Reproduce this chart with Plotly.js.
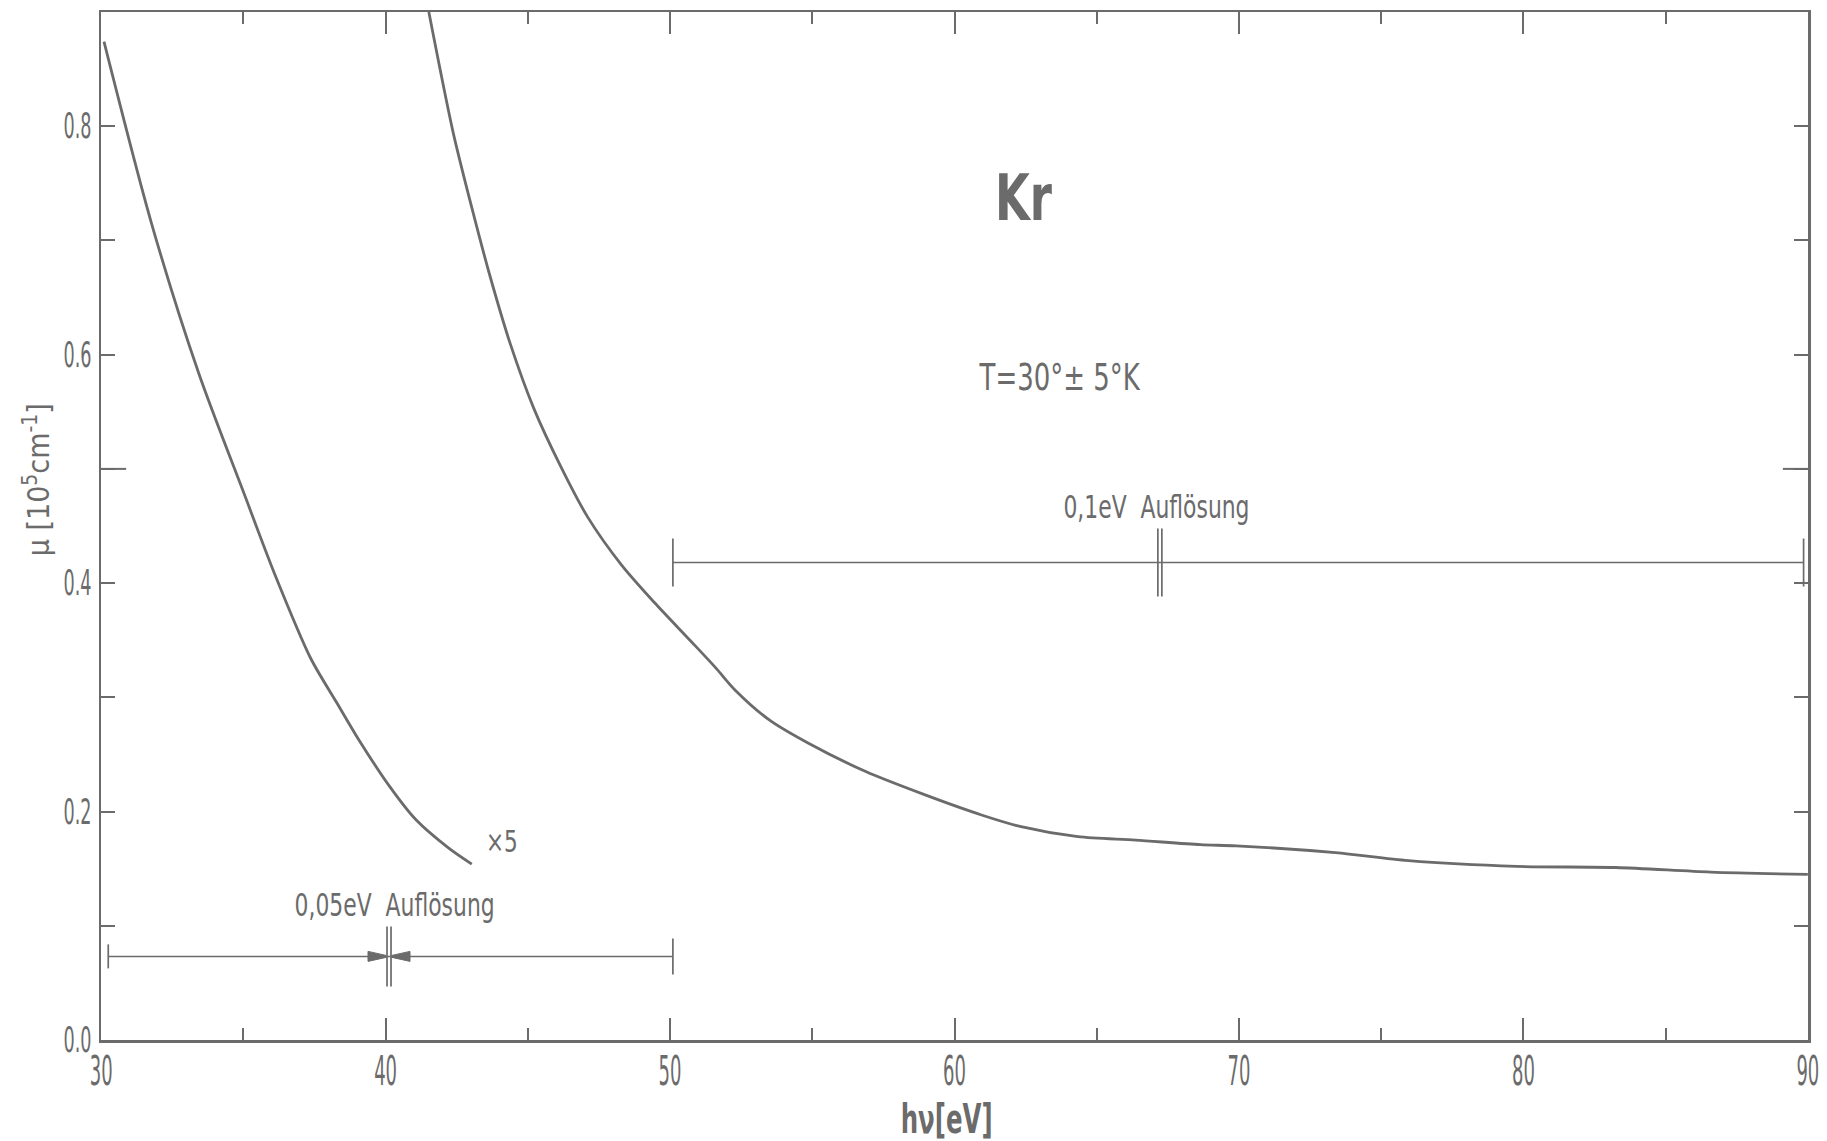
<!DOCTYPE html>
<html><head><meta charset="utf-8">
<script src="https://cdn.plot.ly/plotly-3.0.1.min.js"></script>
<style>html,body{margin:0;padding:0;background:#fff}#chart{width:1827px;height:1141px}</style>
</head><body><div id="chart"></div>
<script>
// ---- data ----
const lowCurveX = [30.1, 31.77, 33.44, 35.06, 36.10, 37.37, 38.29, 38.98, 40.14, 41.06, 42.22, 43.03];
const lowCurveY = [0.874, 0.715, 0.583, 0.476, 0.408, 0.334, 0.295, 0.266, 0.222, 0.193, 0.168, 0.154];
const mainCurveX = [41.52, 42.38, 43.09, 43.68, 44.39, 45.21, 46.16, 47.10, 48.29, 49.45, 50.70, 51.60, 52.30, 53.50, 54.85, 56.88, 58.92, 60.95, 62.30, 64.34, 66.37, 68.65, 69.90, 73.39, 75.96, 79.76, 83.25, 86.58, 90.0];
const mainCurveY = [0.900, 0.794, 0.723, 0.668, 0.609, 0.553, 0.502, 0.458, 0.416, 0.383, 0.350, 0.326, 0.306, 0.280, 0.260, 0.235, 0.215, 0.197, 0.187, 0.178, 0.175, 0.171, 0.170, 0.164, 0.157, 0.152, 0.151, 0.147, 0.145];
// resolution bars: [0.05 eV, 0.1 eV]
const barStart = [30.25, 50.1];
const barEnd = [50.1, 89.85];
const barY = [0.0732, 0.418];
const barMid = [40.12, 67.22];
const barLabels = ["0,05eV  Auflösung", "0,1eV  Auflösung"];
const xTickVals = [30, 40, 50, 60, 70, 80, 90];
const yTickVals = [0.0, 0.2, 0.4, 0.6, 0.8];
const yTickText = ["0.0", "0.2", "0.4", "0.6", "0.8"];
const labelKr = "Kr";
const labelT = "T=30°± 5°K";
const labelFactor = "×5";
const xTitle = "hν[eV]";
const yTitle = "μ [10<sup>5</sup>cm<sup>-1</sup>]";

// ---- styling ----
const INK = '#6b6b6b';
const FONT = '"DejaVu Sans Condensed", "DejaVu Sans", sans-serif';

const traces = [
  {x: lowCurveX, y: lowCurveY, mode: 'lines', line: {color: INK, width: 2.8, shape: 'spline', smoothing: 0.8}, hoverinfo: 'skip'},
  {x: mainCurveX, y: mainCurveY, mode: 'lines', line: {color: INK, width: 2.8, shape: 'spline', smoothing: 0.8}, hoverinfo: 'skip'}
];
for (let i = 0; i < barStart.length; i++) {
  traces.push({x: [barStart[i], barEnd[i]], y: [barY[i], barY[i]], mode: 'lines',
    line: {color: INK, width: 1.5}, hoverinfo: 'skip'});
}

const endHalf = [[12, 18], [24, 24]];
const midHalf = [30, 34];
const shapes = [];
function vline(xa, ya, half, dx, w) {
  shapes.push({type: 'line', xref: 'x', yref: 'y', xsizemode: 'pixel', ysizemode: 'pixel',
    xanchor: xa, yanchor: ya, x0: dx, x1: dx, y0: -half, y1: half, line: {color: INK, width: w}});
}
for (let i = 0; i < barStart.length; i++) {
  vline(barStart[i], barY[i], endHalf[i][0], 0, 1.7);
  vline(barEnd[i], barY[i], endHalf[i][1], 0, 1.7);
  vline(barMid[i], barY[i], midHalf[i], -2, 1.7);
  vline(barMid[i], barY[i], midHalf[i], 2, 1.7);
}
shapes.push({type: 'path', xref: 'x', yref: 'y', xsizemode: 'pixel', ysizemode: 'pixel',
  xanchor: barMid[0], yanchor: barY[0], path: 'M-21,5 L-3,1 L-3,-1 L-21,-5 Z', fillcolor: INK, line: {color: INK, width: 1}});
shapes.push({type: 'path', xref: 'x', yref: 'y', xsizemode: 'pixel', ysizemode: 'pixel',
  xanchor: barMid[0], yanchor: barY[0], path: 'M21,5 L3,1 L3,-1 L21,-5 Z', fillcolor: INK, line: {color: INK, width: 1}});
shapes.push({type: 'line', xref: 'x', yref: 'y', xsizemode: 'pixel', xanchor: 30, x0: 0, x1: 25, y0: 0.5, y1: 0.5, line: {color: INK, width: 2}});
shapes.push({type: 'line', xref: 'x', yref: 'y', xsizemode: 'pixel', xanchor: 90, x0: -25, x1: 0, y0: 0.5, y1: 0.5, line: {color: INK, width: 2}});

const annotations = [
  {x: 62.45, y: 0.737, xref: 'x', yref: 'y', text: labelKr, showarrow: false,
    font: {family: FONT, size: 64, color: INK, weight: 'bold'}},
  {x: 63.7, y: 0.580, xref: 'x', yref: 'y', text: labelT, showarrow: false,
    font: {family: FONT, size: 37, color: INK}},
  {x: 67.1, y: 0.467, xref: 'x', yref: 'y', text: barLabels[1], showarrow: false,
    font: {family: FONT, size: 32, color: INK}},
  {x: 40.32, y: 0.118, xref: 'x', yref: 'y', text: barLabels[0], showarrow: false,
    font: {family: FONT, size: 32, color: INK}},
  {x: 44.1, y: 0.174, xref: 'x', yref: 'y', text: labelFactor, showarrow: false,
    font: {family: FONT, size: 30, color: INK}},
  {x: 59.73, y: 0, xref: 'x', yref: 'paper', yanchor: 'middle', yshift: -79, text: xTitle, showarrow: false,
    font: {family: FONT, size: 40, color: INK, weight: 'bold'}},
  {x: 0, y: 0.49, xref: 'paper', yref: 'y', xanchor: 'center', yanchor: 'middle', xshift: -64, textangle: -90,
    text: yTitle, showarrow: false,
    font: {family: FONT, size: 30, color: INK}}
];
// horizontal squeeze per annotation (same order), to imitate the narrow lettering
const annSqueeze = [0.78, 0.78, 0.76, 0.76, 0.8, 0.68, 1];

const layout = {
  width: 1827, height: 1141,
  margin: {l: 101, r: 19, t: 12, b: 101},
  paper_bgcolor: '#ffffff', plot_bgcolor: '#ffffff',
  showlegend: false,
  font: {family: FONT, color: INK},
  xaxis: {
    range: [29.995, 90.005], tickvals: xTickVals, ticks: 'inside', ticklen: 22, tickwidth: 2, tickcolor: INK,
    minor: {dtick: 5, tick0: 30, ticks: 'inside', ticklen: 12, tickwidth: 2, tickcolor: INK},
    showline: true, linewidth: 2.5, linecolor: INK, mirror: 'ticks',
    showgrid: false, zeroline: false, ticklabelstandoff: -6, ticklabeloverflow: 'allow',
    tickfont: {family: FONT, size: 40, color: INK}
  },
  yaxis: {
    range: [0, 0.9], tickvals: yTickVals, ticktext: yTickText, ticks: 'inside', ticklen: 14, tickwidth: 2, tickcolor: INK,
    minor: {dtick: 0.1, tick0: 0, ticks: 'inside', ticklen: 14, tickwidth: 2, tickcolor: INK},
    showline: true, linewidth: 2.5, linecolor: INK, mirror: 'ticks',
    showgrid: false, zeroline: false, ticklabelstandoff: 0, ticklabeloverflow: 'allow',
    tickfont: {family: FONT, size: 35, color: INK}
  },
  shapes: shapes,
  annotations: annotations
};

function squeeze(el, f) {
  if (!el || f >= 1) return;
  const w = el.getComputedTextLength ? el.getComputedTextLength() : el.getBBox().width;
  if (!w) return;
  el.setAttribute('textLength', (w * f).toFixed(1));
  el.setAttribute('lengthAdjust', 'spacingAndGlyphs');
}

Plotly.newPlot('chart', traces, layout, {staticPlot: true, displayModeBar: false}).then(function (gd) {
  gd.querySelectorAll('.xtick text').forEach(t => squeeze(t, 0.5));
  gd.querySelectorAll('.ytick text').forEach(t => squeeze(t, 0.56));
  const anns = gd.querySelectorAll('.annotation');
  anns.forEach((a, i) => {
    const t = a.querySelector('text.annotation-text');
    if (t && t.querySelectorAll('tspan').length === 0) squeeze(t, annSqueeze[i]);
  });
});
</script>
</body></html>
